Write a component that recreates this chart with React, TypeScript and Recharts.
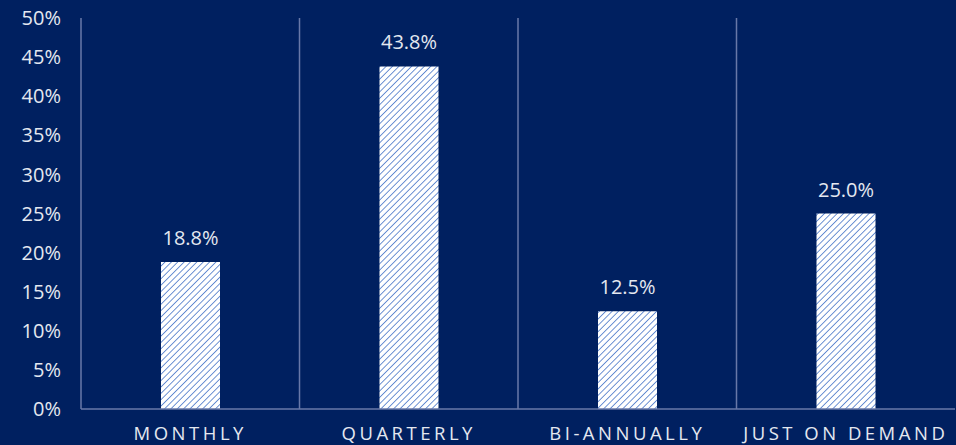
import { BarChart, Bar, XAxis, YAxis, CartesianGrid, LabelList } from "recharts";

const categories = ["MONTHLY", "QUARTERLY", "BI-ANNUALLY", "JUST ON DEMAND"];
const shares = [18.8, 43.8, 12.5, 25.0];
const yTicks = [0, 5, 10, 15, 20, 25, 30, 35, 40, 45, 50];

const data = categories.map((name, i) => ({ name, value: shares[i] }));

const BG = "#002060";
const LINE = "#6878a8";
const TEXT = "#e4e8f0";
const FONT = "'Open Sans', 'Noto Sans', sans-serif";

const XTick = ({ x, y, payload }: { x?: number; y?: number; payload?: { value: string } }) => (
  <text
    x={x}
    y={(y ?? 0) + 23}
    textAnchor="middle"
    fill={TEXT}
    fontSize={18.5}
    fontFamily={FONT}
    letterSpacing={3.5}
  >
    {payload?.value}
  </text>
);

export default function App() {
  return (
    <div style={{ width: 956, height: 445, background: BG }}>
      <style>{"body{margin:0}"}</style>
      <BarChart
        width={956}
        height={445}
        data={data}
        margin={{ top: 18, right: 1, bottom: 0, left: 0 }}
        barSize={59}
      >
        <defs>
          <pattern id="hatch" patternUnits="userSpaceOnUse" width="4.5" height="4.5" patternTransform="rotate(45)">
            <rect width="4.5" height="4.5" fill="#ffffff" />
            <line x1="0" y1="0" x2="0" y2="4.5" stroke="#5580cc" strokeWidth="1.7" />
          </pattern>
        </defs>
        <CartesianGrid
          horizontal={false}
          stroke={LINE}
          strokeWidth={1.5}
          verticalCoordinatesGenerator={({ offset }: any) =>
            [1, 2, 3].map((i) => offset.left + (offset.width / categories.length) * i)
          }
        />
        <XAxis
          dataKey="name"
          axisLine={{ stroke: LINE, strokeWidth: 1.5 }}
          tickLine={false}
          height={36}
          tick={<XTick />}
          interval={0}
        />
        <YAxis
          width={81}
          domain={[0, 50]}
          ticks={yTicks}
          tickFormatter={(v: number) => `${v}%`}
          axisLine={{ stroke: LINE, strokeWidth: 1.5 }}
          tickLine={false}
          tickMargin={14}
          tick={{ fill: TEXT, fontSize: 20, fontFamily: FONT }}
          interval={0}
        />
        <Bar dataKey="value" fill="url(#hatch)" isAnimationActive={false}>
          <LabelList
            dataKey="value"
            position="top"
            offset={17}
            formatter={(v: number) => `${v.toFixed(1)}%`}
            fill={TEXT}
            fontSize={20}
            fontFamily={FONT}
          />
        </Bar>
      </BarChart>
    </div>
  );
}
